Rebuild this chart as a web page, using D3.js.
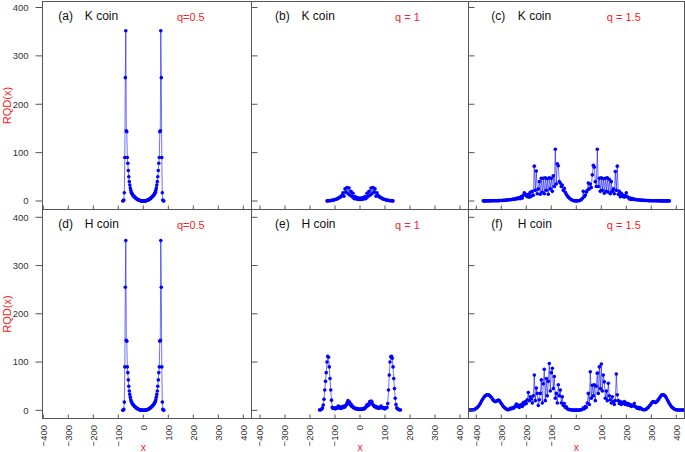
<!DOCTYPE html>
<html><head><meta charset="utf-8">
<script src="https://cdn.jsdelivr.net/npm/d3@7"></script>
<style>body{margin:0;background:#fff} svg{display:block} text{font-family:"Liberation Sans",Arial,Helvetica,sans-serif}</style>
</head><body><svg id="chart" width="685" height="452"></svg>
<script>
// ---------- data ----------
const xTicks = [-400,-300,-200,-100,0,100,200,300,400];
const yTicks = [0,100,200,300,400];
const panelLetters = ["(a)","(b)","(c)","(d)","(e)","(f)"];
const coinNames = ["K coin","K coin","K coin","H coin","H coin","H coin"];
const qLabels = ["q=0.5","q = 1","q = 1.5","q=0.5","q = 1","q = 1.5"];
const yAxisTitle = "RQD(x)";
const xAxisTitle = "x";

// q = 0.5 (K and H coin identical), sites -82..82 step 2
const stepQ05 = 2;
const yQ05 = [0,0.5,2,17,90,255,352,145,143,90,78,63,50,40,33,27,22,18,16,14,12.5,11,10,8.8,7.8,6.8,5.9,5,4.2,3.5,2.9,2.3,1.8,1.4,1,0.7,0.5,0.3,0.15,0.07,0.02,0,
  0.02,0.07,0.15,0.3,0.5,0.7,1,1.4,1.8,2.3,2.9,3.5,4.2,5,5.9,6.8,7.8,8.8,10,11,12.5,14,16,18,22,27,33,40,50,63,78,90,143,145,352,255,90,17,2,0.5,0];

// K coin, q = 1, sites -132..132 step 4
const stepKq1 = 4;
const yKq1 = [0.2,0.3,0.5,0.7,1,1.3,1.8,2.3,3,3.6,4.3,5.5,6.5,8,9,12,17,10,25,18,28,15,27,12,20,9,16,5,9,4,7,3,6,3,
  6,3,7,4,9,5,16,9,20,12,27,15,28,18,25,10,17,12,9,8,6.5,5.5,4.3,3.6,3,2.3,1.8,1.3,1,0.7,0.5,0.3,0.2];

// K coin, q = 1.5, sites -372..372 step 4
const stepKq15 = 4;
const yKq15 = [0.2,0.2,0.2,0.2,0.3,0.3,0.3,0.3,0.4,0.4,
  0.4,0.5,0.5,0.6,0.6,0.7,0.8,0.9,1.0,1.1,
  1.2,1.4,1.6,1.8,2.0,2.3,2.6,3.0,2.5,3.5,
  4.0,3.2,5.0,4.0,6.0,4.5,7.0,5.0,9.0,6.0,
  12,17,14,11,9,14,8,18,10,20,
  12,72,22,62,15,25,40,14,47,18,
  47,15,48,22,46,14,48,25,47,20,
  52,30,107,35,77,73,40,37,30,33,
  22,26,18,14,11,8,6,4,3,1.5,
  0.8,0.5,0.3,0.2,
  0.3,0.5,0.8,1.5,3,5,20,9,12,18,
  22,37,25,35,28,54,74,70,40,30,
  107,30,47,20,48,22,46,16,47,20,
  48,18,45,15,40,20,25,15,61,22,
  72,14,20,9,16,10,12,8,11,17,
  9,7,4,6,3,5,3,4,2.5,3,
  2.2,2.5,2,2,1.8,1.6,1.4,1.2,1.1,1,
  0.9,0.8,0.7,0.6,0.6,0.5,0.5,0.4,0.4,0.4,
  0.3,0.3,0.3,0.3,0.2,0.2,0.2,0.2,0.2,0.2,
  0.2,0.2,0.2];

// H coin, q = 1, sites -162..162 step 3
const stepHq1 = 3;
const yHq1 = [0.5,1,1.5,2.5,5,11,23,42,60,78,
  100,112,110,90,66,42,21,6,4,5,
  4,3,5,4,6,9,5,7,4,6,
  5,8,6,9,7,10,12,16,20,14,
  17,11,13,8,9,6,5,4,3,4,
  2.5,3,2,2.5,2,
  2.5,2,3,2.5,4,3,5,7,11,9,
  13,11,18,15,19,17,12,10,8,9,
  6,7,5,6,4,5,6,9,6,5,
  4,5,3,4,5,6,14,42,73,100,
  111,112,108,90,66,45,25,12,5,3,
  2,1.5,1,0.5];

// H coin, q = 1.5, sites -432..432 step 4
const stepHq15 = 4;
const yHq15 = [0.5,0.5,0.6,0.7,0.8,1,1.5,2.5,4,6,
  8,11,14,18,22,25,28,30,31.5,32,
  32,31,29,27,24,21,19,18,18.5,20,
  21,20,17,14,11,8,6,4,2.5,1.5,
  1,2,4,3,5,4,6,9,13,8,
  11,6,9,12,8,16,12,18,14,22,
  37,20,28,24,15,30,73,20,46,35,
  10,22,35,63,15,55,85,20,66,30,
  60,97,40,78,87,45,70,25,35,15,
  53,30,42,15,28,10,14,6,7,3,
  2,1.5,1,0.8,0.5,0.4,0.3,0.3,0.3,
  0.3,0.4,0.5,0.8,1.2,2,5,3,8,6,
  15,35,12,80,25,52,30,53,20,50,
  77,35,90,45,96,40,73,59,25,40,
  20,56,30,22,15,28,18,12,20,75,
  32,20,14,18,12,16,14,18,12,15,
  11,14,10,12,8,10,9,14,8,6,
  4,6,3,5,3,2,1.5,1,1.5,2.5,
  4,6,9,11,14,17,18,17,16,17,
  19,22,25,28,31,32,32,31,29,26,
  22,18,14,11,8,6,4,2.5,1.5,1,
  0.8,0.7,0.6,0.5,0.5,0.5,0.5,0.5];

// ---------- layout ----------
const svg = d3.select("#chart");
const cols = [{l:42.5, r:251.5, cx:143.3}, {l:251.5, r:468.5, cx:360}, {l:468.5, r:684.5, cx:576.3}];
const rows = [{t:1.5, b:209.5, y0:201, y400:7.5}, {t:209.5, b:418.5, y0:410.3, y400:217.3}];
const axisColor = "#555", labelColor = "#333", red = "#f22424", blue = "#0000ff";

const panels = [
  {row:0, col:0, y:yQ05, step:stepQ05},
  {row:0, col:1, y:yKq1, step:stepKq1},
  {row:0, col:2, y:yKq15, step:stepKq15},
  {row:1, col:0, y:yQ05, step:stepQ05},
  {row:1, col:1, y:yHq1, step:stepHq1},
  {row:1, col:2, y:yHq15, step:stepHq15}
];

const defs = svg.append("defs");

panels.forEach((p, i) => {
  const c = cols[p.col], r = rows[p.row];
  const x = d3.scaleLinear().domain([-400, 400]).range([c.cx - 100, c.cx + 100]);
  const y = d3.scaleLinear().domain([0, 400]).range([r.y0, r.y400]);
  const n = p.y.length;
  const data = p.y.map((v, k) => ({x: (k - (n - 1) / 2) * p.step, v}));

  defs.append("clipPath").attr("id", "clip" + i)
    .append("rect").attr("x", c.l).attr("y", r.t).attr("width", c.r - c.l).attr("height", r.b - r.t);

  const g = svg.append("g");
  const dg = g.append("g").attr("clip-path", `url(#clip${i})`);
  dg.append("path").datum(data)
    .attr("d", d3.line().x(d => x(d.x)).y(d => y(d.v)))
    .attr("fill", "none").attr("stroke", blue).attr("stroke-width", 0.8).attr("stroke-opacity", 0.7);
  dg.selectAll("circle").data(data).join("circle")
    .attr("cx", d => x(d.x)).attr("cy", d => y(d.v)).attr("r", 1.8).attr("fill", blue);

  // frame
  g.append("rect").attr("x", c.l).attr("y", r.t).attr("width", c.r - c.l).attr("height", r.b - r.t)
    .attr("fill", "none").attr("stroke", axisColor).attr("stroke-width", 1);

  // x ticks (inward, bottom)
  g.selectAll(".xt").data(xTicks).join("line")
    .attr("x1", d => x(d)).attr("x2", d => x(d))
    .attr("y1", r.b).attr("y2", r.b - 4)
    .attr("stroke", axisColor).attr("stroke-width", 1);

  // y ticks
  g.selectAll(".yt").data(yTicks).join("line")
    .attr("x1", c.l).attr("x2", p.col === 0 ? c.l - 7 : c.l + 6)
    .attr("y1", d => y(d)).attr("y2", d => y(d))
    .attr("stroke", axisColor).attr("stroke-width", 1);

  if (p.col === 0) {
    g.selectAll(".yl").data(yTicks).join("text")
      .attr("x", 28.5).attr("y", d => y(d)).attr("dy", "0.35em")
      .attr("text-anchor", "end").attr("font-size", 9.5).attr("fill", labelColor)
      .text(d => d);
    g.append("text").attr("transform", `translate(10.5,${(r.t + r.b) / 2}) rotate(-90)`)
      .attr("text-anchor", "middle").attr("font-size", 11).attr("fill", red).text(yAxisTitle);
  }

  if (p.row === 1) {
    g.selectAll(".xl").data(xTicks).join("text")
      .attr("transform", d => `translate(${x(d)},${r.b + 6.5}) rotate(-90)`)
      .attr("dy", "0.35em").attr("text-anchor", "end").attr("font-size", 9.5).attr("fill", labelColor)
      .text(d => d < 0 ? "\u2212" + Math.abs(d) : d);
    g.append("text").attr("x", x(0)).attr("y", 450.5).attr("text-anchor", "middle")
      .attr("font-size", 10.5).attr("fill", red).text(xAxisTitle);
  }

  // panel labels
  g.append("text").attr("x", x(-340)).attr("y", r.t + 18).attr("font-size", 12).attr("fill", "#111")
    .text(panelLetters[i]);
  g.append("text").attr("x", x(-340) + 26.5).attr("y", r.t + 18).attr("font-size", 12).attr("fill", "#111")
    .text(coinNames[i]);
  g.append("text").attr("x", x(190)).attr("y", r.t + 19).attr("text-anchor", "middle")
    .attr("font-size", 11).attr("fill", red).text(qLabels[i]);
});
</script></body></html>
